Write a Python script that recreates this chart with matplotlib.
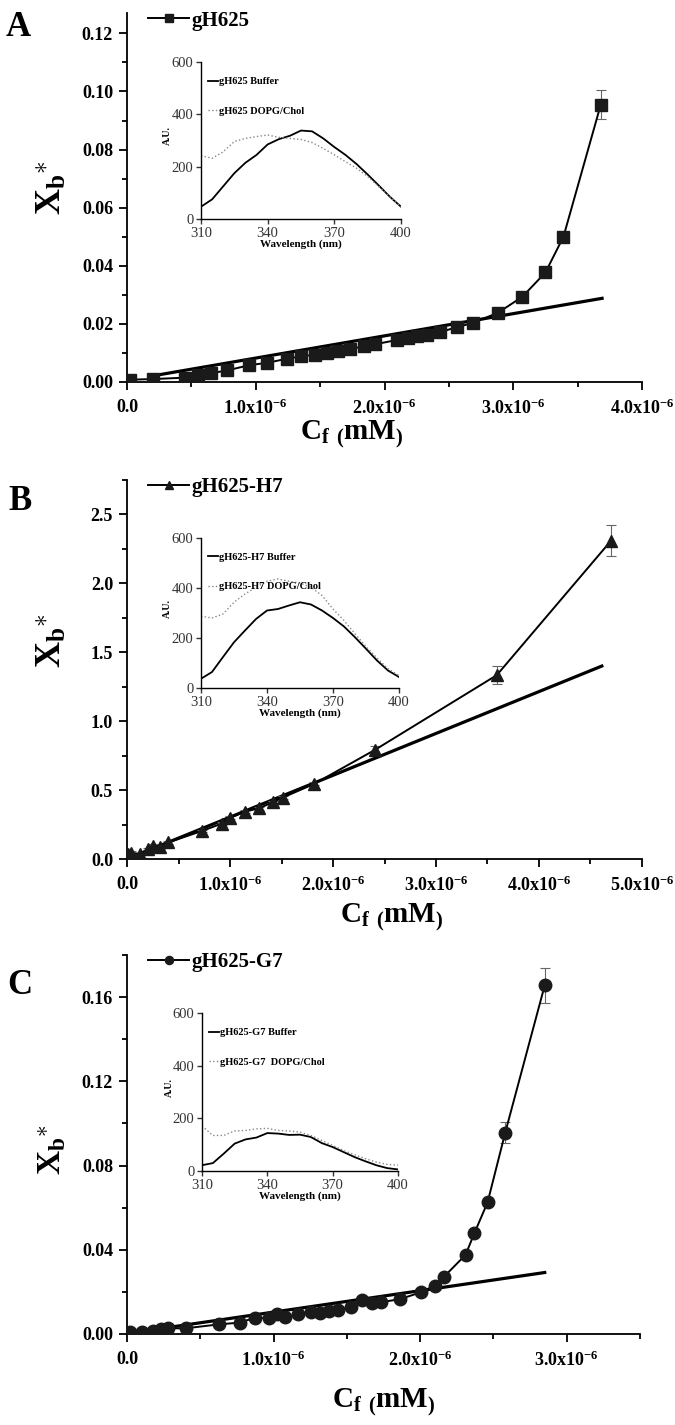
import matplotlib
matplotlib.use('Agg')
import matplotlib.pyplot as plt
import numpy as np
from matplotlib.ticker import MultipleLocator, FuncFormatter

plt.rcParams['font.family'] = ['Liberation Serif', 'DejaVu Serif']
plt.rcParams['mathtext.fontset'] = 'custom'
plt.rcParams['mathtext.rm'] = 'Liberation Serif'
plt.rcParams['mathtext.bf'] = 'Liberation Serif:bold'
plt.rcParams['mathtext.it'] = 'Liberation Serif:italic'

# ---------------- Panel A : gH625 ----------------
cf_A = np.array([0.02, 0.20, 0.45, 0.55, 0.65, 0.78, 0.95, 1.09, 1.24, 1.35, 1.46, 1.55, 1.64,
                 1.73, 1.84, 1.93, 2.10, 2.18, 2.25, 2.33, 2.43, 2.56, 2.69, 2.88, 3.07, 3.25,
                 3.39, 3.68]) * 1e-6
xb_A = np.array([0.0008, 0.0010, 0.0015, 0.0025, 0.0030, 0.0040, 0.0058, 0.0066, 0.0080, 0.0088,
                 0.0094, 0.0100, 0.0106, 0.0112, 0.0124, 0.0130, 0.0145, 0.0152, 0.0158, 0.0163,
                 0.0172, 0.0188, 0.0204, 0.0238, 0.0293, 0.0377, 0.0500, 0.0955])
err_A = np.array([0.0002] * 24 + [0.0006, 0.0008, 0.0015, 0.0050])
fit_x_A = np.array([0.25, 3.69]) * 1e-6
fit_y_A = np.array([0.0025, 0.0288])

# ---------------- Panel B : gH625-H7 ----------------
cf_B = np.array([0.01, 0.04, 0.13, 0.20, 0.25, 0.32, 0.40, 0.73, 0.92, 1.00, 1.15, 1.28, 1.42,
                 1.51, 1.82, 2.41, 3.59, 4.70]) * 1e-6
xb_B = np.array([0.035, 0.045, 0.036, 0.072, 0.096, 0.084, 0.120, 0.204, 0.257, 0.300, 0.344,
                 0.368, 0.413, 0.445, 0.546, 0.793, 1.334, 2.310])
err_B = np.array([0.01] * 15 + [0.03, 0.065, 0.115])
fit_x_B = np.array([0.05, 4.61]) * 1e-6
fit_y_B = np.array([0.015, 1.40])

# ---------------- Panel C : gH625-G7 ----------------
cf_C = np.array([0.02, 0.10, 0.18, 0.23, 0.28, 0.40, 0.63, 0.77, 0.875, 0.97, 1.025, 1.08, 1.17,
                 1.255, 1.32, 1.38, 1.44, 1.53, 1.60, 1.67, 1.73, 1.86, 2.005, 2.10, 2.16, 2.31,
                 2.37, 2.46, 2.58, 2.85]) * 1e-6
xb_C = np.array([0.0011, 0.0011, 0.0016, 0.0022, 0.0027, 0.0027, 0.0046, 0.0054, 0.0078, 0.0075,
                 0.0094, 0.0079, 0.0095, 0.0106, 0.0102, 0.0111, 0.0114, 0.0130, 0.0162, 0.0146,
                 0.0151, 0.0165, 0.0198, 0.0230, 0.0270, 0.0376, 0.0479, 0.0625, 0.0955, 0.1656])
err_C = np.array([0.0003] * 26 + [0.001, 0.0015, 0.005, 0.0083])
fit_x_C = np.array([0.30, 2.85]) * 1e-6
fit_y_C = np.array([0.0033, 0.0292])

# ---------------- Inset spectra ----------------
wavelength = [310, 315, 320, 325, 330, 335, 340, 345, 350, 355, 360, 365, 370, 375, 380, 385, 390, 395, 400]
buf_A = [47, 75, 125, 175, 215, 245, 285, 305, 318, 338, 335, 308, 275, 245, 210, 170, 128, 85, 47]
dopg_A = [242, 232, 257, 296, 308, 315, 321, 312, 308, 304, 292, 270, 245, 219, 194, 162, 124, 85, 47]
buf_B = [37, 64, 124, 183, 230, 276, 310, 316, 330, 343, 334, 310, 280, 246, 203, 157, 110, 70, 44]
dopg_B = [287, 280, 296, 343, 376, 403, 427, 436, 427, 420, 403, 370, 316, 270, 217, 166, 120, 77, 50]
buf_C = [22, 30, 66, 104, 120, 127, 144, 142, 137, 138, 129, 106, 91, 72, 53, 37, 22, 11, 6]
dopg_C = [171, 135, 135, 152, 154, 160, 162, 154, 152, 148, 135, 116, 97, 78, 62, 47, 34, 25, 22]

W, H = 675, 1425
fig = plt.figure(figsize=(W / 100, H / 100), dpi=100)


def frac_rect(x0, x1, ytop, ybot):
    return [x0 / W, 1 - ybot / H, (x1 - x0) / W, (ybot - ytop) / H]


def xfmt(v, pos):
    if abs(v) < 1e-12:
        return '0.0'
    return r'$\mathbf{%.1fx10^{-6}}$' % (v / 1e-6)


def main_panel(rect, x, y, err, fx, fy, marker, msize, label, xmax, ymax, ymajor, yminor, yfmt):
    ax = fig.add_axes(rect)
    ax.plot(fx, fy, color='black', lw=2.3, zorder=2)
    ax.errorbar(x, y, yerr=err, fmt='none', ecolor='#666666', elinewidth=0.8, capsize=3.5,
                capthick=0.8, zorder=3)
    ax.plot(x, y, color='black', lw=1.4, marker=marker, ms=msize, mfc='#1a1a1a', mec='#1a1a1a',
            label=label, zorder=4)
    ax.set_xlim(0, xmax)
    ax.set_ylim(0, ymax)
    for s in ['top', 'right']:
        ax.spines[s].set_visible(False)
    for s in ['left', 'bottom']:
        ax.spines[s].set_linewidth(1.3)
    ax.xaxis.set_major_locator(MultipleLocator(1e-6))
    ax.xaxis.set_minor_locator(MultipleLocator(0.5e-6))
    ax.yaxis.set_major_locator(MultipleLocator(ymajor))
    ax.yaxis.set_minor_locator(MultipleLocator(yminor))
    ax.xaxis.set_major_formatter(FuncFormatter(xfmt))
    ax.yaxis.set_major_formatter(FuncFormatter(lambda v, p: yfmt % v))
    ax.tick_params(which='major', direction='out', length=6, width=1.3, labelsize=13, pad=4)
    ax.tick_params(axis='x', which='major', pad=6)
    ax.tick_params(which='minor', direction='out', length=3.5, width=1.3)
    for t in ax.get_xticklabels() + ax.get_yticklabels():
        t.set_fontweight('bold')
    ax.legend(loc='upper left', bbox_to_anchor=(0.02, 1.035), frameon=False,
              handlelength=2.0, handletextpad=0.1, markerscale=0.65, borderpad=0,
              prop={'family': 'Liberation Serif', 'weight': 'bold', 'size': 15})
    return ax


def inset(rect, buf, dopg, name_buf, name_dopg):
    ax = fig.add_axes(rect)
    ax.plot(wavelength, buf, color='black', lw=1.3, label=name_buf)
    ax.plot(wavelength, dopg, color='#888888', lw=1.0, ls=':', label=name_dopg)
    ax.set_xlim(310, 400)
    ax.set_ylim(0, 600)
    ax.set_xticks([310, 340, 370, 400])
    ax.set_yticks([0, 200, 400, 600])
    for s in ['top', 'right']:
        ax.spines[s].set_visible(False)
    for s in ['left', 'bottom']:
        ax.spines[s].set_linewidth(1.0)
    ax.tick_params(direction='out', length=3.5, width=1.0, labelsize=10.5, pad=2, colors='#333333')
    ax.set_xlabel('Wavelength (nm)', fontsize=8, fontweight='bold', labelpad=0)
    ax.set_ylabel('A.U.', fontsize=7, fontweight='bold')
    ax.yaxis.set_label_coords(-0.145, 0.53)
    ax.legend(loc='upper left', bbox_to_anchor=(0.0, 0.95), frameon=False, handlelength=0.9,
              handletextpad=0.1, labelspacing=1.9, borderpad=0.2,
              prop={'family': 'Liberation Serif', 'weight': 'bold', 'size': 7.5})
    return ax


axA = main_panel(frac_rect(127, 642, 13, 382), cf_A, xb_A, err_A, fit_x_A, fit_y_A, 's', 8,
                 'gH625', 4.0e-6, 0.127, 0.02, 0.01, '%.2f')
axB = main_panel(frac_rect(127, 642, 480, 859), cf_B, xb_B, err_B, fit_x_B, fit_y_B, '^', 9,
                 'gH625-H7', 5.0e-6, 2.75, 0.5, 0.25, '%.1f')
axC = main_panel(frac_rect(127, 640, 955, 1334), cf_C, xb_C, err_C, fit_x_C, fit_y_C, 'o', 9,
                 'gH625-G7', 3.5e-6, 0.18, 0.04, 0.02, '%.2f')

inset(frac_rect(201, 401, 62, 219), buf_A, dopg_A, 'gH625 Buffer', 'gH625 DOPG/Chol')
inset(frac_rect(201, 399, 538, 688), buf_B, dopg_B, 'gH625-H7 Buffer', 'gH625-H7 DOPG/Chol')
inset(frac_rect(202, 398, 1013, 1171), buf_C, dopg_C, 'gH625-G7 Buffer', 'gH625-G7  DOPG/Chol')

# panel letters
for letter, (px, py) in zip(['A', 'B', 'C'], [(18, 28), (20, 502), (20, 985)]):
    fig.text(px / W, 1 - py / H, letter, fontsize=25, fontweight='bold', ha='center', va='center')

# y labels
ylab = r'$\mathbf{X_b}^{\mathbf{\ast}}$'
for (px, py, fs) in [(52, 188, 26), (52, 641, 26), (52, 1150, 24)]:
    fig.text(px / W, 1 - py / H, ylab, fontsize=fs, rotation=90, ha='center', va='center')

# x labels
xlab = r'$\mathbf{C_f\ {}_{(}mM{}_{)}}$'
for (px, py) in [(352, 434), (392, 917), (384, 1402)]:
    fig.text(px / W, 1 - py / H, xlab, fontsize=21, ha='center', va='center')

fig.savefig('out.png', dpi=100)
